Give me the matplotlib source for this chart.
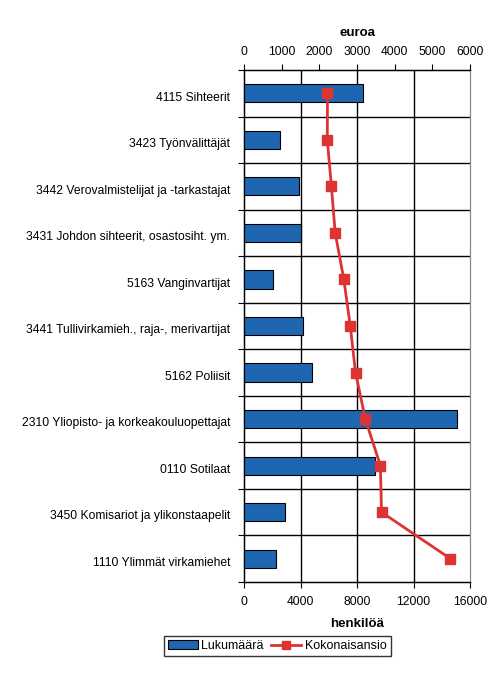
import matplotlib
matplotlib.use('Agg')
import matplotlib.pyplot as plt
from matplotlib.lines import Line2D
from matplotlib.patches import Patch
import numpy as np

# Ammattiryhmät, ylhäältä alas
categories = ['4115 Sihteerit', '3423 Työnvälittäjät',
	'3442 Verovalmistelijat ja -tarkastajat',
	'3431 Johdon sihteerit, osastosiht. ym.', '5163 Vanginvartijat',
	'3441 Tullivirkamieh., raja-, merivartijat', '5162 Poliisit',
	'2310 Yliopisto- ja korkeakouluopettajat', '0110 Sotilaat',
	'3450 Komisariot ja ylikonstaapelit', '1110 Ylimmät virkamiehet']
lukumaara = [8400, 2550, 3900, 4000, 2050, 4200, 4800, 15100, 9300, 2900, 2250]
kokonaisansio = [2215, 2210, 2320, 2420, 2650, 2820, 2960, 3220, 3620, 3650, 5480]
bottom_ticks = [0, 4000, 8000, 12000, 16000]
top_ticks = [0, 1000, 2000, 3000, 4000, 5000, 6000]

bar_color = '#1f66b0'
line_color = '#dd3333'

plt.rcParams['font.family'] = ['Liberation Sans', 'DejaVu Sans']
plt.rcParams['font.size'] = 8.7

fig = plt.figure(figsize=(4.94, 6.79), dpi=100)
ax = fig.add_axes([0.494, 0.1429, 0.4575, 0.754])

n = len(categories)
y = np.arange(n)

ax.barh(y, lukumaara, height=0.39, color=bar_color, edgecolor='black', linewidth=0.8, zorder=3)
ax.set_xlim(0, 16000)
ax.set_ylim(n - 0.5, -0.5)
ax.set_xticks(bottom_ticks)
ax.set_xticklabels([str(t) for t in bottom_ticks])
ax.set_yticks(y + 0.06)
ax.set_yticklabels(categories)
ax.tick_params(axis='y', length=0, pad=10)
ax.tick_params(axis='x', direction='out', length=4, width=0.8, pad=6)
ax.set_yticks(np.arange(n + 1) - 0.5, minor=True)
ax.tick_params(axis='y', which='minor', length=4, width=0.8, direction='out')
ax.set_xlabel('henkilöä', fontweight='bold', fontsize=9.5, labelpad=7)

# ruudukko
for t in bottom_ticks[1:-1]:
	ax.axvline(t, color='black', linewidth=1, zorder=1)
for b in np.arange(1, n) - 0.5:
	ax.axhline(b, color='black', linewidth=1, zorder=1)

for side in ['left', 'top', 'bottom']:
	ax.spines[side].set_linewidth(1)
ax.spines['right'].set_color('#888888')

ax2 = ax.twiny()
ax2.plot(kokonaisansio, y, color=line_color, linewidth=2, marker='s', markersize=7, zorder=4)
ax2.set_xlim(0, 6000)
ax2.set_xticks(top_ticks)
ax2.set_xticklabels([str(t) for t in top_ticks])
ax2.tick_params(axis='x', direction='out', length=4, width=0.8, pad=5)
ax2.set_xlabel('euroa', fontweight='bold', fontsize=9.5, labelpad=7)
ax2.spines['right'].set_color('#888888')

handles = [Patch(facecolor=bar_color, edgecolor='black', linewidth=0.8),
	Line2D([], [], color=line_color, linewidth=2, marker='s', markersize=6)]
fig.legend(handles, ['Lukumäärä', 'Kokonaisansio'], loc='center',
	bbox_to_anchor=(0.561, 0.0486), ncol=2, frameon=True, fancybox=False,
	edgecolor='black', fontsize=9, handlelength=2.4, handletextpad=0.3,
	columnspacing=0.6, borderpad=0.3, borderaxespad=0)

fig.savefig('out.png', dpi=100)
